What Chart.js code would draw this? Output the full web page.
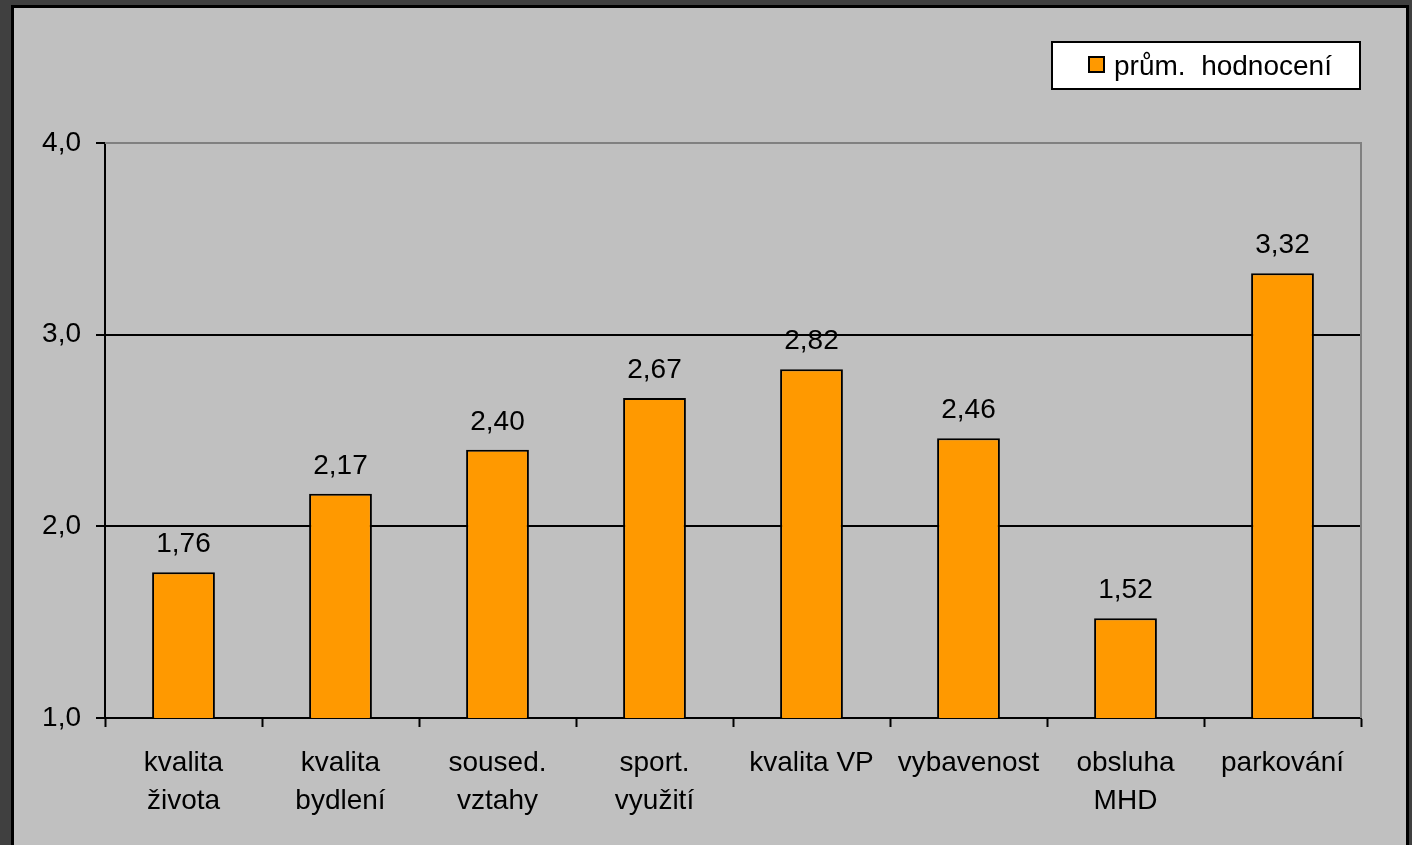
<!DOCTYPE html>
<html>
<head>
<meta charset="utf-8">
<script src="https://cdn.jsdelivr.net/npm/chart.js@4/dist/chart.umd.min.js"></script>
<style>
  html, body { margin: 0; padding: 0; background: #404040; }
  canvas { display: block; }
</style>
</head>
<body>
<canvas id="c" width="1412" height="845"></canvas>
<script>
// Průměrné hodnocení jednotlivých oblastí
const categories = [
  ['kvalita', 'života'],
  ['kvalita', 'bydlení'],
  ['soused.', 'vztahy'],
  ['sport.', 'využití'],
  'kvalita VP',
  'vybavenost',
  ['obsluha', 'MHD'],
  'parkování'
];
const ratings = [1.76, 2.17, 2.40, 2.67, 2.82, 2.46, 1.52, 3.32];
const seriesLabel = 'prům. hodnocení';
const yMin = 1, yMax = 4, yStep = 1;

const FONT = '"Liberation Sans", Arial, sans-serif';
const BG = '#c0c0c0';
const BAR = '#ff9900';

const fmt = (v, d) => v.toFixed(d).replace('.', ',');

// Outer frame and panel background
const framePlugin = {
  id: 'frame',
  beforeDraw(chart) {
    const ctx = chart.ctx;
    ctx.save();
    ctx.fillStyle = '#404040';
    ctx.fillRect(0, 0, chart.width, chart.height);
    ctx.fillStyle = '#000';
    ctx.fillRect(11, 5, 1398, chart.height - 5);
    ctx.fillStyle = BG;
    ctx.fillRect(14, 8, 1392, chart.height - 8);
    ctx.restore();
  }
};

// Grey border on the top and right of the plot area
const plotBorderPlugin = {
  id: 'plotBorder',
  beforeDatasetsDraw(chart) {
    const { ctx, chartArea: a } = chart;
    ctx.save();
    ctx.strokeStyle = '#808080';
    ctx.lineWidth = 2;
    ctx.beginPath();
    ctx.moveTo(a.left, a.top);
    ctx.lineTo(a.right, a.top);
    ctx.lineTo(a.right, a.bottom);
    ctx.stroke();
    ctx.restore();
  }
};

// Value labels above the bars
const valueLabelPlugin = {
  id: 'valueLabels',
  afterDatasetsDraw(chart) {
    const ctx = chart.ctx;
    const meta = chart.getDatasetMeta(0);
    const data = chart.data.datasets[0].data;
    ctx.save();
    ctx.font = '28px ' + FONT;
    ctx.fillStyle = '#000';
    ctx.textAlign = 'center';
    ctx.textBaseline = 'alphabetic';
    meta.data.forEach((bar, i) => {
      ctx.fillText(fmt(data[i], 2), bar.x, bar.y - 20);
    });
    ctx.restore();
  }
};

// Boxed legend in the top-right corner
const legendBoxPlugin = {
  id: 'legendBox',
  afterDraw(chart) {
    const ctx = chart.ctx;
    const ds = chart.data.datasets[0];
    ctx.save();
    ctx.fillStyle = '#000';
    ctx.fillRect(1051, 41, 310, 49);
    ctx.fillStyle = '#fff';
    ctx.fillRect(1053, 43, 306, 45);
    ctx.fillStyle = '#000';
    ctx.fillRect(1088, 56, 17, 17);
    ctx.fillStyle = ds.backgroundColor;
    ctx.fillRect(1090, 58, 13, 13);
    ctx.fillStyle = '#000';
    ctx.font = '28px ' + FONT;
    ctx.textAlign = 'left';
    ctx.textBaseline = 'alphabetic';
    ctx.fillText(ds.label.replace(' ', '  '), 1114, 75);
    ctx.restore();
  }
};

new Chart(document.getElementById('c'), {
  type: 'bar',
  data: {
    labels: categories,
    datasets: [{
      label: seriesLabel,
      data: ratings,
      backgroundColor: BAR,
      borderColor: '#000',
      borderWidth: 2,
      barPercentage: 0.4,
      categoryPercentage: 1.0
    }]
  },
  options: {
    responsive: false,
    animation: false,
    devicePixelRatio: 1,
    layout: { padding: { left: 0, top: 143, right: 51, bottom: 0 } },
    plugins: {
      legend: { display: false },
      tooltip: { enabled: false }
    },
    scales: {
      x: {
        offset: true,
        grid: {
          offset: true,
          drawOnChartArea: false,
          drawTicks: true,
          tickLength: 9,
          tickColor: '#000',
          tickWidth: 2
        },
        border: { display: true, color: '#000', width: 2 },
        ticks: {
          color: '#000',
          font: { family: FONT, size: 28, lineHeight: 38 / 28 },
          padding: 17,
          maxRotation: 0,
          autoSkip: false
        },
        afterFit(scale) { scale.height = 127; }
      },
      y: {
        min: yMin,
        max: yMax,
        grid: {
          color: ctx => (ctx.tick && ctx.tick.value > yMin && ctx.tick.value < yMax) ? '#000' : 'rgba(0,0,0,0)',
          lineWidth: 2,
          drawTicks: true,
          tickLength: 9,
          tickColor: '#000',
          tickWidth: 2
        },
        border: { display: true, color: '#000', width: 2 },
        ticks: {
          stepSize: yStep,
          color: '#000',
          font: { family: FONT, size: 28 },
          padding: 15,
          callback: v => fmt(v, 1)
        },
        afterFit(scale) { scale.width = 105; }
      }
    }
  },
  plugins: [framePlugin, plotBorderPlugin, valueLabelPlugin, legendBoxPlugin]
});
</script>
</body>
</html>
